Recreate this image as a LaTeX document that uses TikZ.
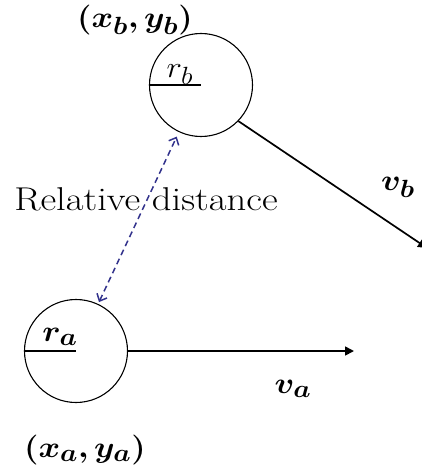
\documentclass[tikz,border=0pt]{standalone}
\usepackage{bm}
\usetikzlibrary{arrows.meta}
\newcommand{\mymath}[1]{\scalebox{1.32}[1.2]{$#1$}}
\tikzset{
  ball/.style={draw, circle, line width=1.1pt, minimum size=103pt, inner sep=0pt},
  radius/.style={line width=1.7pt},
  vel/.style={line width=1.7pt, -{Triangle[length=9pt,width=9pt]}},
  rel/.style={draw={rgb,255:red,50;green,50;blue,140}, line width=1.5pt, dash pattern=on 6pt off 4pt,
    {Straight Barb[length=6pt,width=11pt,line width=1.5pt]}-{Straight Barb[length=6pt,width=11pt,line width=1.5pt]}},
  lab/.style={inner sep=0pt, font=\fontsize{24.88}{30}\selectfont},
}
\begin{document}
\begin{tikzpicture}[x=1pt,y=-1pt]
\useasboundingbox (0,0) rectangle (421,473);
\node[ball] (cb) at (201,85) {};
\node[ball] (ca) at (76,351) {};
\draw[radius] (cb.west) -- (cb.center);
\draw[radius] (ca.west) -- (ca.center);
\coordinate (ta) at (354,351);
\coordinate (tb) at (427,248);
\draw[vel] (ca.east) -- (ta);
\draw[vel] (cb.-44) -- (tb);
\draw[rel, shorten <=2pt, shorten >=5pt] (ca) -- (cb);
\node[lab] (pb) at (135,20) {\mymath{\bm{(x_b,y_b)}}};
\node[lab] (lrb) at (180,75) {\mymath{r_b}};
\node[lab] (lra) at (60,337) {\mymath{\bm{r_a}}};
\node[lab] (lva) at (293,389) {\mymath{\bm{v_a}}};
\node[lab] (lvb) at (398,187) {\mymath{\bm{v_b}}};
\node[lab] (pa) at (85,450) {\mymath{\bm{(x_a,y_a)}}};
\node[lab, font=\fontsize{33}{40}\selectfont] (rd) at (146,199) {\scalebox{1.17}[1]{Relative distance}};
\end{tikzpicture}
\end{document}
